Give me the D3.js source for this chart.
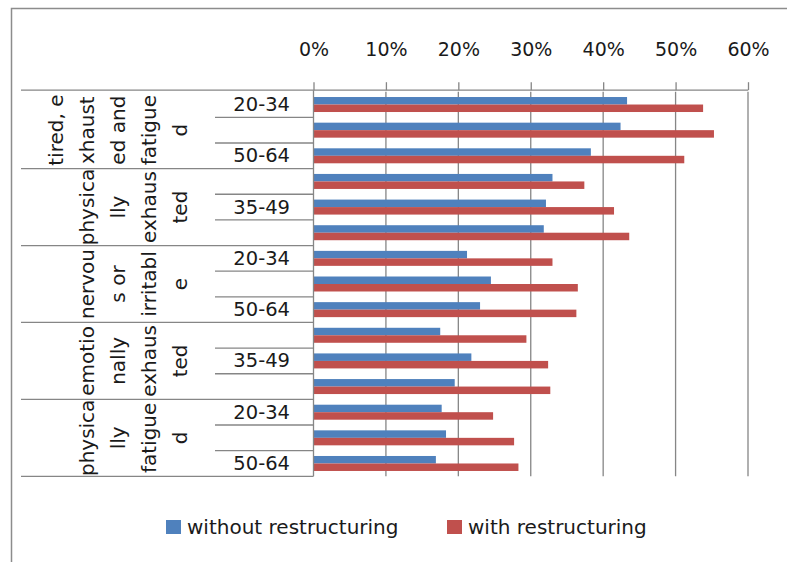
<!DOCTYPE html>
<html>
<head>
<meta charset="utf-8">
<script src="https://cdn.jsdelivr.net/npm/d3@7"></script>
<style>
  body { margin: 0; background: #fff; }
  svg text { font-family: "DejaVu Sans", sans-serif; fill: #1a1a1a; }
</style>
</head>
<body>
<svg id="chart" width="787" height="562"></svg>
<script>
// group labels, already wrapped the way the picture shows them
var groups = [
    ["tired, e", "xhaust", "ed and", "fatigue", "d"],
    ["physica", "lly", "exhaus", "ted"],
    ["nervou", "s or", "irritabl", "e"],
    ["emotio", "nally", "exhaus", "ted"],
    ["physica", "lly", "fatigue", "d"]
];
var ages = ["20-34", "35-49", "50-64"];
var series = ["without restructuring", "with restructuring"];
var without_values = [43.3, 42.4, 38.3, 33.0, 32.1, 31.8, 21.2, 24.5, 23.0, 17.5, 21.8, 19.5, 17.7, 18.3, 16.9];
var with_values = [53.8, 55.3, 51.2, 37.4, 41.5, 43.6, 33.0, 36.5, 36.3, 29.4, 32.4, 32.7, 24.8, 27.7, 28.3];
var ticks = [0, 10, 20, 30, 40, 50, 60];
var colors = ["#4f81bd", "#c0504d"];

var svg = d3.select('#chart');

// rows = group x age
var rows = [];
groups.forEach(function (g, gi) {
    ages.forEach(function (a, ai) {
        var i = gi * ages.length + ai;
        rows.push({group: gi, age: a, idx: i, v: [without_values[i], with_values[i]]});
    });
});

var x = d3.scaleLinear().domain([0, 60]).range([313.5, 748]);
var y = d3.scaleBand().domain(rows.map(function (d) {return d.idx;})).range([91.7, 476.3]);
var ys = d3.scaleBand().domain([0, 1]).range([0, y.bandwidth()]).paddingOuter(0.71).paddingInner(0);

// outer frame (cut by the picture on the right and bottom)
svg.append('rect').attr('x', 11.5).attr('y', 8.5).attr('width', 800).attr('height', 600)
    .attr('fill', 'none').attr('stroke', '#8c8c8c').attr('stroke-width', 1.5);

// gridlines
svg.append('g').selectAll('line').data(ticks.slice(1)).enter().append('line')
    .attr('x1', function (d) {return x(d);}).attr('x2', function (d) {return x(d);})
    .attr('y1', y.range()[0]).attr('y2', y.range()[1])
    .attr('stroke', '#868686').attr('stroke-width', 1.3);

// top axis
var axis = svg.append('g').attr('transform', 'translate(0,' + (y.range()[0] - 1.5) + ')')
    .call(d3.axisTop(x).tickValues(ticks).tickSize(8).tickSizeOuter(0).tickPadding(26)
        .tickFormat(function (d) {return d + '%';}));
axis.select('.domain').remove();
axis.selectAll('line').attr('stroke', '#868686').attr('stroke-width', 1.3);
axis.selectAll('text').style('font-size', '19px').attr('fill', '#1a1a1a');
svg.append('line').attr('x1', 21).attr('x2', x(60)).attr('y1', y.range()[0] - 1.5).attr('y2', y.range()[0] - 1.5)
    .attr('stroke', '#868686').attr('stroke-width', 1.3);

// bars
var rowG = svg.append('g').selectAll('g').data(rows).enter().append('g')
    .attr('transform', function (d) {return 'translate(0,' + y(d.idx) + ')';});
rowG.selectAll('rect').data(function (d) {return d.v;}).enter().append('rect')
    .attr('x', x(0))
    .attr('y', function (d, i) {return ys(i);})
    .attr('width', function (d) {return x(d) - x(0);})
    .attr('height', ys.bandwidth())
    .attr('fill', function (d, i) {return colors[i];});

// category axis line
svg.append('line').attr('x1', x(0)).attr('x2', x(0)).attr('y1', y.range()[0] - 1.5).attr('y2', y.range()[1])
    .attr('stroke', '#868686').attr('stroke-width', 1.3);

// row separators (short inside a group, long between groups)
var seps = d3.range(1, rows.length + 1);
svg.append('g').selectAll('line').data(seps).enter().append('line')
    .attr('x1', function (d) {return d % ages.length === 0 ? 21 : 215;})
    .attr('x2', x(0))
    .attr('y1', function (d) {return y.range()[0] + d * y.step();})
    .attr('y2', function (d) {return y.range()[0] + d * y.step();})
    .attr('stroke', '#868686').attr('stroke-width', 1.3);

// age labels, every second one like the original
svg.append('g').selectAll('text').data(rows.filter(function (d) {return d.idx % 2 === 0;})).enter().append('text')
    .attr('x', 290)
    .attr('y', function (d) {return y(d.idx) + y.bandwidth() / 2;})
    .attr('text-anchor', 'end').attr('dominant-baseline', 'central')
    .style('font-size', '19.5px')
    .text(function (d) {return d.age;});

// rotated group labels
var lineStep = 31;
groups.forEach(function (g, gi) {
    var cy = y(gi * ages.length) + y.step() * ages.length / 2;
    g.forEach(function (line, li) {
        var cx = 180 - (g.length - 1 - li) * lineStep;
        svg.append('text')
            .attr('transform', 'translate(' + cx + ',' + cy + ') rotate(-90)')
            .attr('text-anchor', 'middle').attr('dominant-baseline', 'central')
            .style('font-size', '20px')
            .text(line);
    });
});

// legend
var legend = svg.append('g').attr('transform', 'translate(166,527)');
var items = legend.selectAll('g').data(series).enter().append('g')
    .attr('transform', function (d, i) {return 'translate(' + (i * 281) + ',0)';});
items.append('rect').attr('x', 0).attr('y', -7).attr('width', 15).attr('height', 14)
    .attr('fill', function (d, i) {return colors[i];});
items.append('text').attr('x', 21).attr('y', 0).attr('dominant-baseline', 'central')
    .style('font-size', '20px').text(function (d) {return d;});
</script>
</body>
</html>
